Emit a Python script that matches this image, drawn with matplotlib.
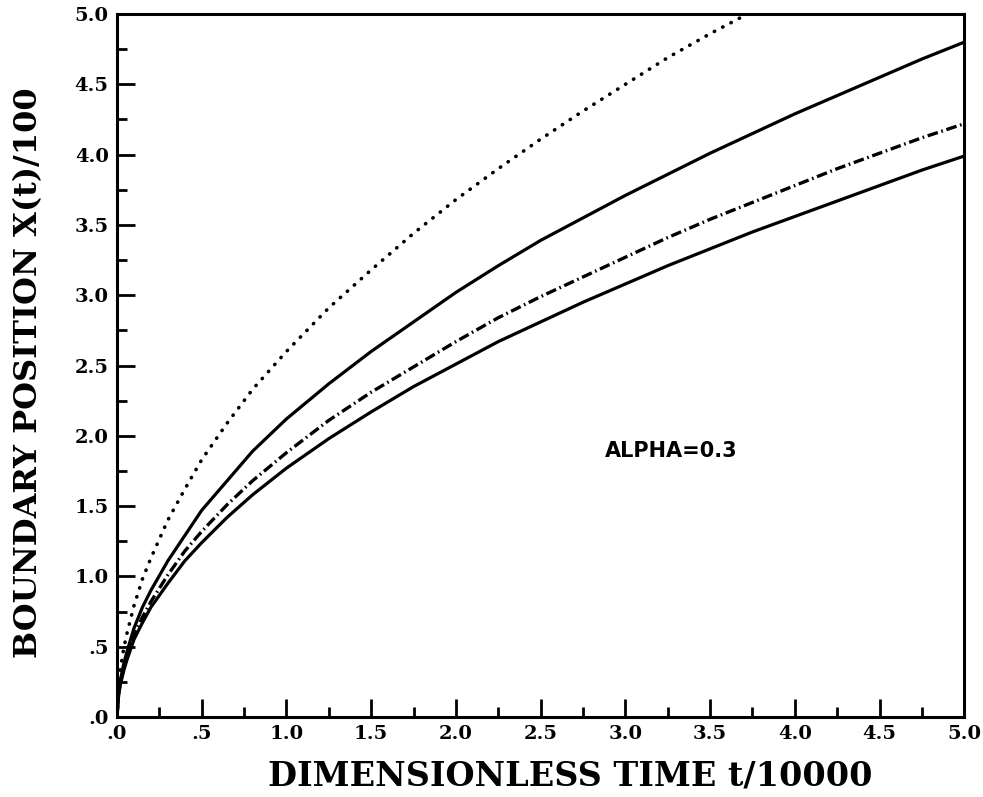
import numpy as np
import matplotlib.pyplot as plt

# boundary position vs dimensionless time
t = [0.0, 0.01, 0.02, 0.04, 0.06, 0.1, 0.15, 0.2, 0.3, 0.4, 0.5, 0.65, 0.8, 1.0,
     1.25, 1.5, 1.75, 2.0, 2.25, 2.5, 2.75, 3.0, 3.25, 3.5, 3.75, 4.0, 4.25, 4.5, 4.75, 5.0]
upper = [0.0, 0.18, 0.26, 0.38, 0.47, 0.63, 0.78, 0.90, 1.11, 1.29, 1.47, 1.68, 1.89, 2.12,
         2.37, 2.60, 2.81, 3.02, 3.21, 3.39, 3.55, 3.71, 3.86, 4.01, 4.15, 4.29, 4.42, 4.55, 4.68, 4.80]
dashdot = [0.0, 0.17, 0.24, 0.35, 0.44, 0.58, 0.71, 0.82, 1.01, 1.18, 1.32, 1.51, 1.68, 1.88,
           2.11, 2.31, 2.49, 2.67, 2.84, 2.99, 3.13, 3.27, 3.41, 3.54, 3.66, 3.78, 3.90, 4.01, 4.12, 4.22]
lower = [0.0, 0.16, 0.23, 0.33, 0.41, 0.55, 0.67, 0.78, 0.95, 1.11, 1.24, 1.42, 1.58, 1.77,
         1.98, 2.17, 2.35, 2.51, 2.67, 2.81, 2.95, 3.08, 3.21, 3.33, 3.45, 3.56, 3.67, 3.78, 3.89, 3.99]
t_dot = [0.0, 0.01, 0.02, 0.04, 0.06, 0.1, 0.15, 0.2, 0.3, 0.4, 0.5, 0.65, 0.8, 1.0,
         1.25, 1.5, 1.75, 2.0, 2.25, 2.5, 2.75, 3.0, 3.25, 3.5, 3.72]
dotted = [0.0, 0.24, 0.34, 0.49, 0.60, 0.79, 0.98, 1.13, 1.40, 1.62, 1.83, 2.09, 2.33, 2.60,
          2.91, 3.18, 3.44, 3.68, 3.90, 4.11, 4.31, 4.50, 4.69, 4.86, 5.0]

major = np.arange(0, 5.01, 0.5)
labels = ['.0', '.5', '1.0', '1.5', '2.0', '2.5', '3.0', '3.5', '4.0', '4.5', '5.0']

fig = plt.figure(figsize=(9.83, 7.97), dpi=100)
ax = fig.add_axes([0.119, 0.1004, 0.862, 0.882])

ax.plot(t_dot, dotted, color='black', lw=2.6, linestyle=(0, (0.1, 2.5)), dash_capstyle='round')
ax.plot(t, upper, color='black', lw=2.3)
ax.plot(t, dashdot, color='black', lw=2.4, linestyle=(0, (3.2, 1.1, 0.5, 1.1)))
ax.plot(t, lower, color='black', lw=2.3)

ax.set_xlim(0, 5)
ax.set_ylim(0, 5)
ax.set_xticks(major)
ax.set_yticks(major)
ax.set_xticks(np.arange(0.25, 5, 0.5), minor=True)
ax.set_yticks(np.arange(0.25, 5, 0.5), minor=True)
tickfont = dict(family='DejaVu Serif', weight='bold', size=14)
ax.set_xticklabels(labels, fontdict=tickfont)
ax.set_yticklabels(labels, fontdict=tickfont)
ax.tick_params(which='major', direction='in', length=13, width=2, pad=6)
ax.tick_params(which='minor', direction='in', length=7, width=2)
for s in ax.spines.values():
    s.set_linewidth(2.2)

ax.set_xlabel('DIMENSIONLESS TIME t/10000', family='DejaVu Serif', weight='bold', size=24)
ax.xaxis.set_label_coords(0.535, -0.06, transform=ax.transAxes)
ax.xaxis.label.set_va('top')
ax.set_ylabel('BOUNDARY POSITION X(t)/100', family='DejaVu Serif', weight='bold', size=23)
ax.yaxis.set_label_coords(-0.086, 0.49)
ax.text(2.88, 1.89, 'ALPHA=0.3', family='DejaVu Sans', weight='heavy', size=15, va='center')

fig.savefig('out.png', dpi=100)
